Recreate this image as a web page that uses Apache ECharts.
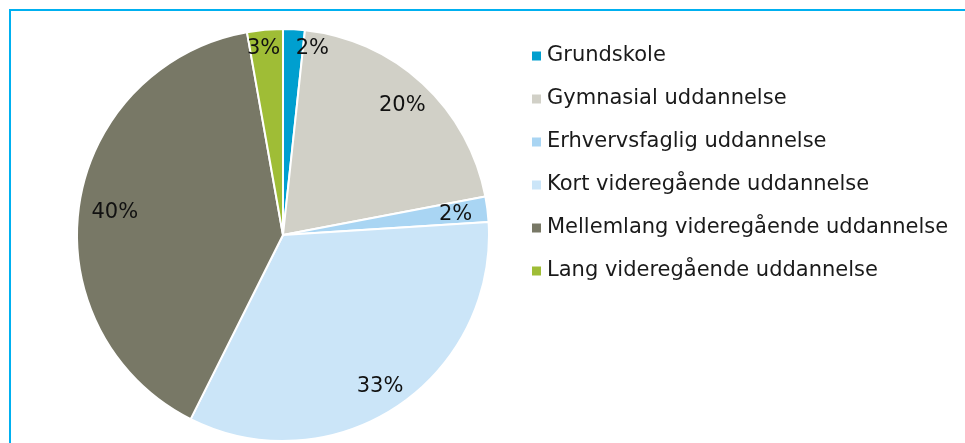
<!DOCTYPE html>
<html>
<head>
<meta charset="utf-8">
<script src="https://cdn.jsdelivr.net/npm/echarts@6/dist/echarts.min.js"></script>
<style>
  html, body { margin: 0; padding: 0; background: #fff; }
  #chart { width: 965px; height: 443px; }
</style>
</head>
<body>
<div id="chart"></div>
<script>
// uddannelsesniveau, andel i procent
var categories = [
  'Grundskole',
  'Gymnasial uddannelse',
  'Erhvervsfaglig uddannelse',
  'Kort videregående uddannelse',
  'Mellemlang videregående uddannelse',
  'Lang videregående uddannelse'
];
var shares = [1.7, 20.3, 2.0, 33.4, 39.8, 2.8];
var colors = ['#009fcf', '#d1d0c7', '#a9d5f3', '#cbe5f8', '#787866', '#9fbd36'];

var chart = echarts.init(document.getElementById('chart'));

// small slices get their label pushed out like in excel
var labelNudge = { 0: [20, -11], 2: [-2, 2], 3: [0, 5], 4: [6, 3], 5: [-4, -11] };

var sliceData = categories.map(function (name, i) {
  return { name: name, value: shares[i], itemStyle: { color: colors[i] } };
});
var labelData = categories.map(function (name, i) {
  var item = { name: name, value: shares[i] };
  if (labelNudge[i]) item.label = { offset: labelNudge[i] };
  return item;
});

var option = {
  animation: false,
  graphic: [{
    type: 'rect',
    shape: { x: 10, y: 10, width: 1000, height: 500 },
    style: { fill: 'none', stroke: '#00b0f0', lineWidth: 2 },
    silent: true
  }],
  legend: {
    orient: 'vertical',
    left: 530,
    top: 44,
    padding: 0,
    data: categories,
    icon: 'rect',
    itemWidth: 11,
    itemHeight: 11,
    itemGap: 19,
    selectedMode: false,
    textStyle: {
      fontFamily: 'DejaVu Sans',
      fontSize: 21,
      lineHeight: 24,
      color: '#1a1a1a'
    }
  },
  series: [
    {
      name: 'andel',
      type: 'pie',
      center: [283, 235],
      radius: 206,
      startAngle: 90,
      clockwise: true,
      label: { show: false },
      labelLine: { show: false },
      itemStyle: { borderColor: '#fff', borderWidth: 2 },
      emphasis: { disabled: true },
      data: sliceData
    },
    {
      name: 'labels',
      type: 'pie',
      center: [283, 235],
      radius: [140, 206],
      startAngle: 90,
      clockwise: true,
      silent: true,
      legendHoverLink: false,
      avoidLabelOverlap: false,
      itemStyle: { color: 'rgba(0,0,0,0)' },
      label: {
        show: true,
        position: 'inside',
        fontFamily: 'DejaVu Sans',
        fontSize: 21,
        color: '#111',
        formatter: function (p) { return Math.round(p.value) + '%'; }
      },
      labelLine: { show: false },
      emphasis: { disabled: true },
      data: labelData
    }
  ]
};
chart.setOption(option);
</script>
</body>
</html>
